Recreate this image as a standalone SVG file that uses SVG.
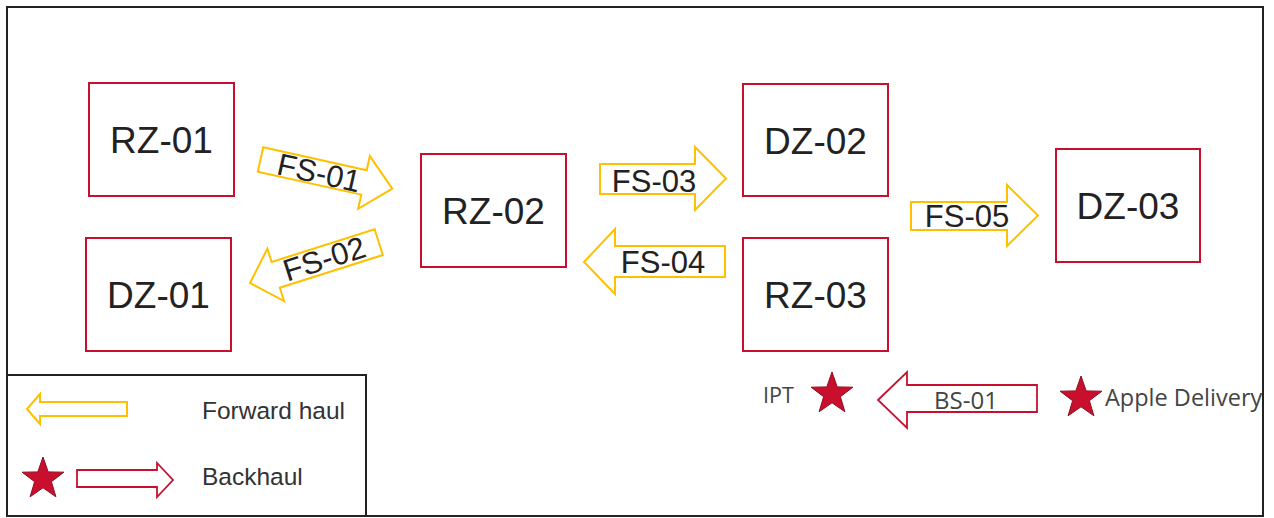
<svg xmlns="http://www.w3.org/2000/svg" width="1274" height="518" viewBox="0 0 1274 518">
<style>
.box{fill:#fff;stroke:#c8102e;stroke-width:2}
.lbl{font-family:"Liberation Sans",Arial,sans-serif;font-size:37px;fill:#222;text-anchor:middle}
.fa{fill:#fff;stroke:#ffc000;stroke-width:2;stroke-linejoin:miter}
.ba{fill:#fff;stroke:#c8102e;stroke-width:1.8}
.alb{font-family:"Liberation Sans",Arial,sans-serif;font-size:31px;fill:#222;text-anchor:middle}
.seg{font-family:"Open Sans","Noto Sans",sans-serif;fill:#444}
.star{fill:#c8102e;stroke:#8e0d20;stroke-width:1}
.leg{font-family:"Liberation Sans",Arial,sans-serif;font-size:24.5px;fill:#333}
</style>
<defs>
<polygon id="star" points="0,-22 5.2,-7.1 20.9,-6.8 8.4,2.7 12.9,17.8 0,8.8 -12.9,17.8 -8.4,2.7 -20.9,-6.8 -5.2,-7.1"/>
</defs>
<rect x="7" y="7" width="1256" height="509" fill="#fff" stroke="#222" stroke-width="2"/>
<rect x="7" y="375" width="359" height="141" fill="#fff" stroke="#222" stroke-width="2"/>

<g id="RZ-01"><rect class="box" x="89" y="83" width="145" height="113"/><text class="lbl" x="161.5" y="153">RZ-01</text></g>
<g id="DZ-01"><rect class="box" x="86" y="238" width="145" height="113"/><text class="lbl" x="158.5" y="308">DZ-01</text></g>
<g id="RZ-02"><rect class="box" x="421" y="154" width="145" height="113"/><text class="lbl" x="493.5" y="224">RZ-02</text></g>
<g id="DZ-02"><rect class="box" x="743" y="84" width="145" height="112"/><text class="lbl" x="815.5" y="154">DZ-02</text></g>
<g id="RZ-03"><rect class="box" x="743" y="238" width="145" height="113"/><text class="lbl" x="815.5" y="308">RZ-03</text></g>
<g id="DZ-03"><rect class="box" x="1056" y="149" width="144" height="113"/><text class="lbl" x="1128" y="219">DZ-03</text></g>

<g id="connectors">
<g id="FS-01" transform="translate(260.5,159.5) rotate(12.5)">
<path class="fa" d="M0,-12.5 L106,-12.5 L106,-27 L135,0 L106,27 L106,12.5 L0,12.5 Z"/>
<text class="alb" x="60" y="11">FS-01</text>
</g>
<g id="FS-02" transform="translate(250,283) rotate(-17.6)">
<path class="fa" d="M0,0 L27,-27.5 L27,-13.5 L135,-13.5 L135,13.5 L27,13.5 L27,27.5 Z"/>
<text class="alb" x="78" y="10">FS-02</text>
</g>
<g id="FS-03">
<path class="fa" d="M600,164 L695,164 L695,147 L726,178.5 L695,210 L695,194 L600,194 Z"/>
<text class="alb" x="654" y="192">FS-03</text>
</g>
<g id="FS-04">
<path class="fa" d="M584,262 L615,229 L615,246 L725,246 L725,277 L615,277 L615,294 Z"/>
<text class="alb" x="663" y="273">FS-04</text>
</g>
<g id="FS-05">
<path class="fa" d="M911,202 L1007,202 L1007,185 L1038,215.5 L1007,246 L1007,230 L911,230 Z"/>
<text class="alb" x="967" y="227">FS-05</text>
</g>
<g id="BS-01">
<path class="ba" d="M878,400 L907,372 L907,385 L1037,385 L1037,412 L907,412 L907,428 Z"/>
<text class="seg" x="966" y="409" font-size="24" text-anchor="middle" fill="#222">BS-01</text>
</g>
</g>

<g id="IPT">
<use href="#star" class="star" transform="translate(832,394)"/>
<text class="seg" x="763" y="403" font-size="21.5">IPT</text>
</g>
<g id="Apple-Delivery">
<use href="#star" class="star" transform="translate(1081,398)"/>
<text class="seg" x="1105" y="406" font-size="23.5">Apple Delivery</text>
</g>

<g id="legend">
<path class="fa" d="M27,409 L40,394 L40,402 L127,402 L127,416 L40,416 L40,424 Z" stroke-width="1.8"/>
<text class="leg" x="202" y="419">Forward haul</text>
<use href="#star" class="star" transform="translate(43,479)"/>
<path class="ba" d="M77,470 L157,470 L157,463 L173,480 L157,497 L157,487 L77,487 Z"/>
<text class="leg" x="202" y="485">Backhaul</text>
</g>
</svg>
